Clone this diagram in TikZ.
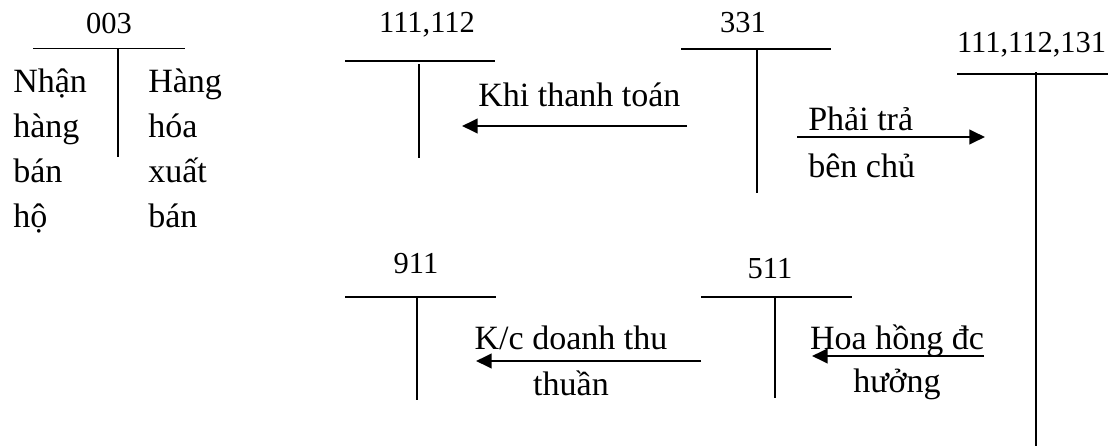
\documentclass[tikz,border=0pt]{standalone}
\usepackage{fontspec}
\setmainfont{Liberation Serif}
\usetikzlibrary{arrows.meta}

\begin{document}
\begin{tikzpicture}[
  tline/.style={line width=1.4pt},
  flow/.style={line width=2pt, -{Triangle[length=0.39cm,width=0.36cm]}},
  acc/.style={font=\fontsize{21.7}{26}\selectfont, inner sep=0pt, anchor=base},
  txt/.style={font=\fontsize{24.2}{32}\selectfont, inner sep=0pt}
]
\useasboundingbox (0,0) rectangle (27.9,-11.2);

% account 003
\node[acc] (n003) at (2.725,-0.825) {003};
\draw[tline] (0.825,-1.2125) -- (4.625,-1.2125);
\draw[tline] (2.95,-1.2125) -- (2.95,-3.925);
% multi-line nodes sit on their last line
\node[txt, anchor=base west, align=left] (nhan) at (0.325,-5.675) {Nhận\\hàng\\bán\\hộ};
\node[txt, anchor=base west, align=left] (hang) at (3.7,-5.675) {Hàng\\hóa\\xuất\\bán};

% account 111,112
\node[acc] (n111) at (10.675,-0.8) {111,112};
\draw[tline] (8.625,-1.517) -- (12.375,-1.517);
\draw[tline] (10.475,-1.6) -- (10.475,-3.95);

% account 331
\node[acc] (n331) at (18.575,-0.8) {331};
\draw[tline] (17.025,-1.225) -- (20.775,-1.225);
\draw[tline] (18.925,-1.225) -- (18.925,-4.825);

% account 111,112,131
\node[acc] (n131) at (25.79,-1.325) {111,112,131};
\draw[tline] (23.925,-1.85) -- (27.7,-1.85);
\draw[tline] (25.9,-1.8) -- (25.9,-11.15);

% account 911
\node[acc] (n911) at (10.4,-6.825) {911};
\draw[tline] (8.625,-7.425) -- (12.4,-7.425);
\draw[tline] (10.425,-7.425) -- (10.425,-10);

% account 511
\node[acc] (n511) at (19.25,-6.95) {511};
\draw[tline] (17.525,-7.425) -- (21.3,-7.425);
\draw[tline] (19.375,-7.425) -- (19.375,-9.95);

% entries
\node[txt, anchor=base west] (khi) at (11.95,-2.65) {Khi thanh toán};
\node[txt, anchor=base west, align=left] (phai) at (20.2,-4.425) {Phải trả\\[1.4pt]bên chủ};
\node[txt, anchor=base, align=center] (kc) at (14.275,-9.875) {K/c doanh thu\\[0.7pt]thuần};
\node[txt, anchor=base, align=center] (hoa) at (22.425,-9.8) {Hoa hồng đc\\[-2.1pt]hưởng};

\coordinate (khiA) at (17.175,-3.15);
\coordinate (khiB) at (11.55,-3.15);
\coordinate (phaiA) at (19.925,-3.425);
\coordinate (phaiB) at (24.625,-3.425);
\coordinate (kcA) at (17.525,-9.025);
\coordinate (kcB) at (11.9,-9.025);
\coordinate (hoaA) at (24.6,-8.9);
\coordinate (hoaB) at (20.3,-8.9);

\draw[flow] (khiA) -- (khiB);
\draw[flow] (phaiA) -- (phaiB);
\draw[flow] (kcA) -- (kcB);
\draw[flow] (hoaA) -- (hoaB);
\end{tikzpicture}
\end{document}
